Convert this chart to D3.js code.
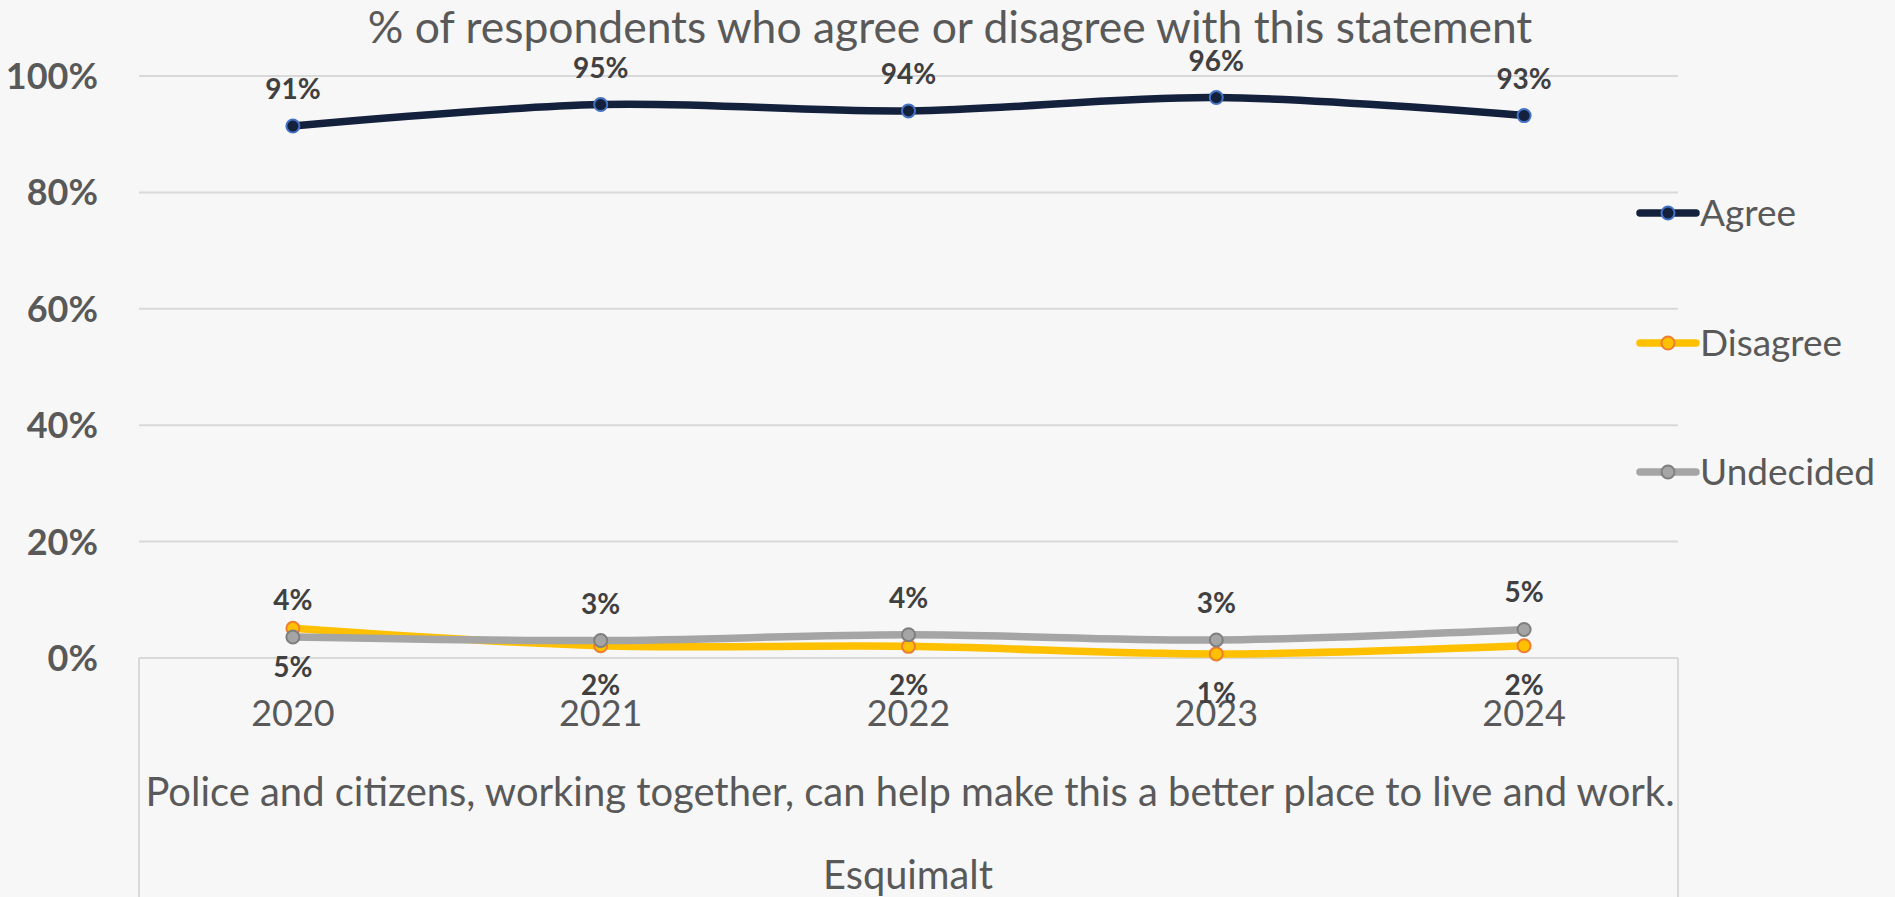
<!DOCTYPE html>
<html><head><meta charset="utf-8">
<script src="https://cdn.jsdelivr.net/npm/d3@7"></script>
<style>
html,body{margin:0;padding:0;background:#f7f7f7;}
svg{display:block;}
text{font-family:Lato,"Open Sans",sans-serif;}
</style></head>
<body>
<svg id="chart" width="1895" height="897"></svg>
<script>
const years = ["2020","2021","2022","2023","2024"];
const agree = [91.4, 95.1, 94.0, 96.3, 93.2];
const disagree = [5.1, 2.1, 2.0, 0.7, 2.1];
const undecided = [3.6, 3.0, 4.0, 3.1, 4.9];
const yTicks = [0, 20, 40, 60, 80, 100];
const seriesNames = ["Agree", "Disagree", "Undecided"];
const titleText = "% of respondents who agree or disagree with this statement";
const axisTitle = "Police and citizens, working together, can help make this a better place to live and work.";
const groupLabel = "Esquimalt";

(function () {
const W = 1895, H = 897;
const svg = d3.select("#chart");
svg.append("rect").attr("width", W).attr("height", H).attr("fill", "#f7f7f7");

const pLeft = 139, pRight = 1678, pTop = 76, pBottom = 658;
const x = d3.scaleBand().domain(years).range([pLeft, pRight]);
const cx = d => x(d) + x.bandwidth() / 2;
const y = d3.scaleLinear().domain([0, 100]).range([pBottom, pTop]);

// gridlines
svg.append("g").selectAll("line").data(yTicks.filter(t => t > 0)).join("line")
  .attr("x1", pLeft).attr("x2", pRight)
  .attr("y1", d => y(d)).attr("y2", d => y(d))
  .attr("stroke", "#d9d9d9").attr("stroke-width", 2);

// category axis box
svg.append("line").attr("x1", pLeft).attr("x2", pRight).attr("y1", y(0)).attr("y2", y(0))
  .attr("stroke", "#d9d9d9").attr("stroke-width", 2);
svg.append("line").attr("x1", pLeft).attr("x2", pLeft).attr("y1", y(0)).attr("y2", H)
  .attr("stroke", "#d9d9d9").attr("stroke-width", 2);
svg.append("line").attr("x1", pRight).attr("x2", pRight).attr("y1", y(0)).attr("y2", H)
  .attr("stroke", "#d9d9d9").attr("stroke-width", 2);

// y tick labels
svg.append("g").selectAll("text").data(yTicks).join("text")
  .attr("x", 98).attr("y", d => y(d)).attr("dy", "0.36em")
  .attr("text-anchor", "end").attr("font-size", 36).attr("font-weight", "bold")
  .attr("fill", "#595959").text(d => d + "%");

// category labels
svg.append("g").selectAll("text").data(years).join("text")
  .attr("x", d => cx(d)).attr("y", 726)
  .attr("text-anchor", "middle").attr("font-size", 36)
  .attr("fill", "#595959").text(d => d);

function fitText(sel, targetW, baseSize) {
  sel.attr("font-size", baseSize);
  const w = sel.node().getComputedTextLength();
  sel.attr("font-size", baseSize * targetW / w);
}

const t = svg.append("text").attr("x", 950).attr("y", 43).attr("text-anchor", "middle")
  .attr("fill", "#595959").text(titleText);
fitText(t, 1165, 40);

const a = svg.append("text").attr("x", 910).attr("y", 806).attr("text-anchor", "middle")
  .attr("fill", "#595959").text(axisTitle);
fitText(a, 1530, 36);

const g = svg.append("text").attr("x", 908).attr("y", 889).attr("text-anchor", "middle")
  .attr("fill", "#595959").text(groupLabel);
fitText(g, 170, 36);

const series = [
  {name: seriesNames[0], values: agree, line: "#14213d", fill: "#14213d", stroke: "#4472c4", pos: "above"},
  {name: seriesNames[1], values: disagree, line: "#ffc000", fill: "#ffc000", stroke: "#ed7d31", pos: "below"},
  {name: seriesNames[2], values: undecided, line: "#a5a5a5", fill: "#a5a5a5", stroke: "#7f7f7f", pos: "above"}
];

const lineGen = d3.line().x((d, i) => cx(years[i])).y(d => y(d)).curve(d3.curveCardinal.tension(0));

series.forEach(s => {
  svg.append("path").datum(s.values).attr("d", lineGen)
    .attr("fill", "none").attr("stroke", s.line).attr("stroke-width", 7.5)
    .attr("stroke-linecap", "round").attr("stroke-linejoin", "round");
  svg.append("g").selectAll("circle").data(s.values).join("circle")
    .attr("cx", (d, i) => cx(years[i])).attr("cy", d => y(d)).attr("r", 6.5)
    .attr("fill", s.fill).attr("stroke", s.stroke).attr("stroke-width", 2);
});

series.forEach(s => {
  svg.append("g").selectAll("text").data(s.values).join("text")
    .attr("x", (d, i) => cx(years[i]))
    .attr("y", d => s.pos === "above" ? y(d) - 27 : y(d) + 49)
    .attr("text-anchor", "middle").attr("font-size", 28).attr("font-weight", "bold")
    .attr("fill", "#404040").text(d => Math.round(d) + "%");
});

// legend
const legY = [213, 343, 472];
series.forEach((s, i) => {
  const lg = svg.append("g");
  lg.append("line").attr("x1", 1640).attr("x2", 1696).attr("y1", legY[i]).attr("y2", legY[i])
    .attr("stroke", s.line).attr("stroke-width", 7.5).attr("stroke-linecap", "round");
  lg.append("circle").attr("cx", 1668).attr("cy", legY[i]).attr("r", 6.5)
    .attr("fill", s.fill).attr("stroke", s.stroke).attr("stroke-width", 2);
  lg.append("text").attr("x", 1700).attr("y", legY[i]).attr("dy", "0.36em")
    .attr("font-size", 37).attr("fill", "#595959").text(s.name);
});
})();
</script>
</body></html>
